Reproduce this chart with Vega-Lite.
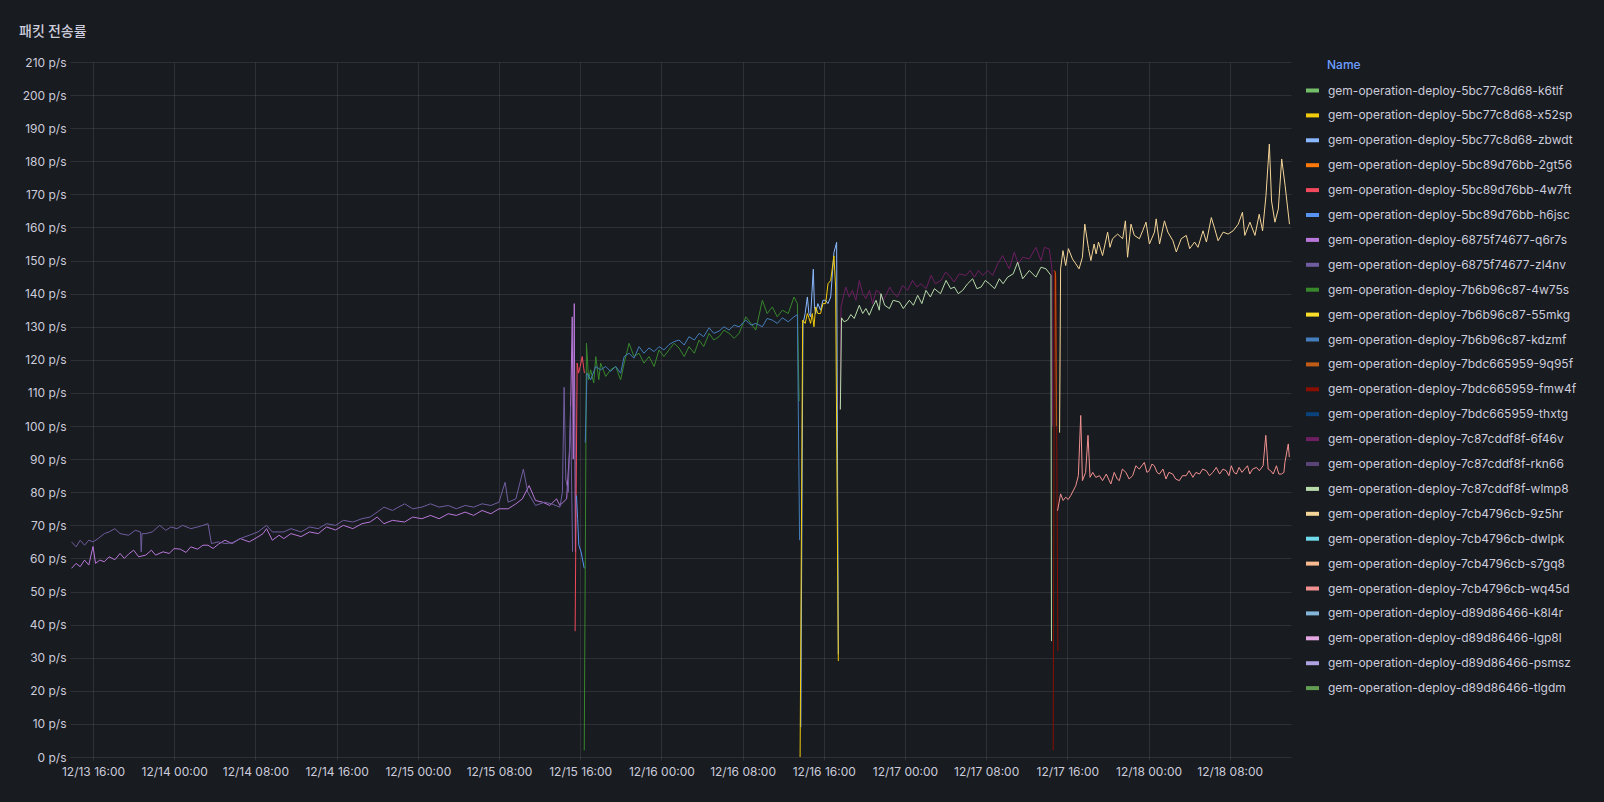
{
  "$schema": "https://vega.github.io/schema/vega-lite/v6.json",
  "autosize": "none",
  "width": 1221,
  "height": 695,
  "padding": {"left": 70, "top": 62, "right": 313, "bottom": 45},
  "background": "#181b1f",
  "title": {"text": "패킷 전송률", "anchor": "start", "frame": "group", "font": "Noto Sans CJK KR", "fontSize": 14, "fontWeight": 500, "color": "#ccccdc", "dx": -51, "offset": 10, "baseline": "middle"},
  "config": {
    "view": {"stroke": null},
    "axis": {"labelFont": "Inter", "labelFontSize": 12, "labelColor": "#ccccdc", "gridColor": "#ccccdc", "gridOpacity": 0.12, "domain": false, "tickColor": "#ccccdc", "tickOpacity": 0.12}
  },
  "data": {"values": [
{"s":"6875f74677-q6r7s","t":"2023-12-13T13:53","v":57.0},{"s":"6875f74677-q6r7s","t":"2023-12-13T14:20","v":58.5},{"s":"6875f74677-q6r7s","t":"2023-12-13T14:44","v":57.5},{"s":"6875f74677-q6r7s","t":"2023-12-13T15:10","v":59.5},{"s":"6875f74677-q6r7s","t":"2023-12-13T15:35","v":58.0},{"s":"6875f74677-q6r7s","t":"2023-12-13T16:00","v":63.6},{"s":"6875f74677-q6r7s","t":"2023-12-13T16:15","v":58.5},{"s":"6875f74677-q6r7s","t":"2023-12-13T16:40","v":59.5},{"s":"6875f74677-q6r7s","t":"2023-12-13T17:07","v":59.0},{"s":"6875f74677-q6r7s","t":"2023-12-13T17:35","v":60.5},{"s":"6875f74677-q6r7s","t":"2023-12-13T18:09","v":59.6},{"s":"6875f74677-q6r7s","t":"2023-12-13T18:40","v":61.5},{"s":"6875f74677-q6r7s","t":"2023-12-13T19:05","v":60.0},{"s":"6875f74677-q6r7s","t":"2023-12-13T19:30","v":61.3},{"s":"6875f74677-q6r7s","t":"2023-12-13T20:00","v":62.5},{"s":"6875f74677-q6r7s","t":"2023-12-13T20:30","v":60.5},{"s":"6875f74677-q6r7s","t":"2023-12-13T21:12","v":61.0},{"s":"6875f74677-q6r7s","t":"2023-12-13T21:45","v":62.5},{"s":"6875f74677-q6r7s","t":"2023-12-13T22:10","v":61.0},{"s":"6875f74677-q6r7s","t":"2023-12-13T22:54","v":62.0},{"s":"6875f74677-q6r7s","t":"2023-12-13T23:30","v":61.5},{"s":"6875f74677-q6r7s","t":"2023-12-14T00:00","v":63.0},{"s":"6875f74677-q6r7s","t":"2023-12-14T00:36","v":62.8},{"s":"6875f74677-q6r7s","t":"2023-12-14T01:10","v":61.8},{"s":"6875f74677-q6r7s","t":"2023-12-14T01:38","v":63.5},{"s":"6875f74677-q6r7s","t":"2023-12-14T02:18","v":62.8},{"s":"6875f74677-q6r7s","t":"2023-12-14T02:50","v":64.0},{"s":"6875f74677-q6r7s","t":"2023-12-14T03:20","v":64.0},{"s":"6875f74677-q6r7s","t":"2023-12-14T03:50","v":63.0},{"s":"6875f74677-q6r7s","t":"2023-12-14T04:21","v":64.3},{"s":"6875f74677-q6r7s","t":"2023-12-14T05:00","v":65.5},{"s":"6875f74677-q6r7s","t":"2023-12-14T05:42","v":64.5},{"s":"6875f74677-q6r7s","t":"2023-12-14T06:30","v":66.0},{"s":"6875f74677-q6r7s","t":"2023-12-14T07:24","v":65.0},{"s":"6875f74677-q6r7s","t":"2023-12-14T08:15","v":66.5},{"s":"6875f74677-q6r7s","t":"2023-12-14T08:45","v":67.5},{"s":"6875f74677-q6r7s","t":"2023-12-14T09:06","v":69.0},{"s":"6875f74677-q6r7s","t":"2023-12-14T09:40","v":65.5},{"s":"6875f74677-q6r7s","t":"2023-12-14T10:20","v":67.0},{"s":"6875f74677-q6r7s","t":"2023-12-14T10:48","v":66.0},{"s":"6875f74677-q6r7s","t":"2023-12-14T11:30","v":67.5},{"s":"6875f74677-q6r7s","t":"2023-12-14T12:30","v":66.6},{"s":"6875f74677-q6r7s","t":"2023-12-14T13:20","v":68.0},{"s":"6875f74677-q6r7s","t":"2023-12-14T14:12","v":67.5},{"s":"6875f74677-q6r7s","t":"2023-12-14T15:00","v":69.5},{"s":"6875f74677-q6r7s","t":"2023-12-14T15:54","v":68.6},{"s":"6875f74677-q6r7s","t":"2023-12-14T16:40","v":70.0},{"s":"6875f74677-q6r7s","t":"2023-12-14T17:36","v":69.0},{"s":"6875f74677-q6r7s","t":"2023-12-14T18:30","v":70.5},{"s":"6875f74677-q6r7s","t":"2023-12-14T19:18","v":71.0},{"s":"6875f74677-q6r7s","t":"2023-12-14T20:00","v":72.5},{"s":"6875f74677-q6r7s","t":"2023-12-14T20:40","v":70.5},{"s":"6875f74677-q6r7s","t":"2023-12-14T21:30","v":71.5},{"s":"6875f74677-q6r7s","t":"2023-12-14T22:42","v":71.0},{"s":"6875f74677-q6r7s","t":"2023-12-14T23:30","v":72.5},{"s":"6875f74677-q6r7s","t":"2023-12-15T00:24","v":72.0},{"s":"6875f74677-q6r7s","t":"2023-12-15T01:15","v":73.0},{"s":"6875f74677-q6r7s","t":"2023-12-15T02:06","v":72.0},{"s":"6875f74677-q6r7s","t":"2023-12-15T03:00","v":73.5},{"s":"6875f74677-q6r7s","t":"2023-12-15T03:48","v":73.0},{"s":"6875f74677-q6r7s","t":"2023-12-15T04:40","v":74.0},{"s":"6875f74677-q6r7s","t":"2023-12-15T05:30","v":73.0},{"s":"6875f74677-q6r7s","t":"2023-12-15T06:20","v":74.5},{"s":"6875f74677-q6r7s","t":"2023-12-15T07:12","v":73.5},{"s":"6875f74677-q6r7s","t":"2023-12-15T08:00","v":75.0},{"s":"6875f74677-q6r7s","t":"2023-12-15T08:54","v":75.0},{"s":"6875f74677-q6r7s","t":"2023-12-15T09:40","v":76.5},{"s":"6875f74677-q6r7s","t":"2023-12-15T10:18","v":78.0},{"s":"6875f74677-q6r7s","t":"2023-12-15T10:58","v":82.0},{"s":"6875f74677-q6r7s","t":"2023-12-15T11:36","v":77.5},{"s":"6875f74677-q6r7s","t":"2023-12-15T12:18","v":77.0},{"s":"6875f74677-q6r7s","t":"2023-12-15T13:00","v":76.0},{"s":"6875f74677-q6r7s","t":"2023-12-15T13:40","v":78.0},{"s":"6875f74677-q6r7s","t":"2023-12-15T14:00","v":76.0},{"s":"6875f74677-q6r7s","t":"2023-12-15T14:40","v":78.0},{"s":"6875f74677-q6r7s","t":"2023-12-15T15:00","v":95.0},{"s":"6875f74677-q6r7s","t":"2023-12-15T15:13","v":133.0},{"s":"6875f74677-q6r7s","t":"2023-12-15T15:19","v":90.0},{"s":"6875f74677-q6r7s","t":"2023-12-15T15:25","v":137.0},{"s":"6875f74677-q6r7s","t":"2023-12-15T15:32","v":62.0},
{"s":"6875f74677-zl4nv","t":"2023-12-13T13:53","v":65.0},{"s":"6875f74677-zl4nv","t":"2023-12-13T14:20","v":63.5},{"s":"6875f74677-zl4nv","t":"2023-12-13T14:44","v":65.5},{"s":"6875f74677-zl4nv","t":"2023-12-13T15:10","v":64.0},{"s":"6875f74677-zl4nv","t":"2023-12-13T15:35","v":65.5},{"s":"6875f74677-zl4nv","t":"2023-12-13T16:00","v":65.0},{"s":"6875f74677-zl4nv","t":"2023-12-13T16:30","v":66.0},{"s":"6875f74677-zl4nv","t":"2023-12-13T17:07","v":67.5},{"s":"6875f74677-zl4nv","t":"2023-12-13T17:35","v":68.0},{"s":"6875f74677-zl4nv","t":"2023-12-13T18:09","v":69.0},{"s":"6875f74677-zl4nv","t":"2023-12-13T18:40","v":67.5},{"s":"6875f74677-zl4nv","t":"2023-12-13T19:30","v":67.0},{"s":"6875f74677-zl4nv","t":"2023-12-13T20:10","v":68.5},{"s":"6875f74677-zl4nv","t":"2023-12-13T20:41","v":68.0},{"s":"6875f74677-zl4nv","t":"2023-12-13T20:45","v":62.0},{"s":"6875f74677-zl4nv","t":"2023-12-13T20:50","v":67.5},{"s":"6875f74677-zl4nv","t":"2023-12-13T21:12","v":67.5},{"s":"6875f74677-zl4nv","t":"2023-12-13T21:50","v":68.0},{"s":"6875f74677-zl4nv","t":"2023-12-13T22:34","v":70.0},{"s":"6875f74677-zl4nv","t":"2023-12-13T23:10","v":68.5},{"s":"6875f74677-zl4nv","t":"2023-12-13T23:40","v":69.5},{"s":"6875f74677-zl4nv","t":"2023-12-14T00:16","v":69.0},{"s":"6875f74677-zl4nv","t":"2023-12-14T00:50","v":70.0},{"s":"6875f74677-zl4nv","t":"2023-12-14T01:38","v":69.0},{"s":"6875f74677-zl4nv","t":"2023-12-14T02:18","v":69.5},{"s":"6875f74677-zl4nv","t":"2023-12-14T02:50","v":70.0},{"s":"6875f74677-zl4nv","t":"2023-12-14T03:20","v":70.5},{"s":"6875f74677-zl4nv","t":"2023-12-14T03:40","v":64.5},{"s":"6875f74677-zl4nv","t":"2023-12-14T04:21","v":65.0},{"s":"6875f74677-zl4nv","t":"2023-12-14T05:00","v":64.5},{"s":"6875f74677-zl4nv","t":"2023-12-14T05:42","v":64.7},{"s":"6875f74677-zl4nv","t":"2023-12-14T06:30","v":66.0},{"s":"6875f74677-zl4nv","t":"2023-12-14T07:24","v":67.0},{"s":"6875f74677-zl4nv","t":"2023-12-14T08:15","v":68.0},{"s":"6875f74677-zl4nv","t":"2023-12-14T09:06","v":70.0},{"s":"6875f74677-zl4nv","t":"2023-12-14T09:40","v":68.0},{"s":"6875f74677-zl4nv","t":"2023-12-14T10:48","v":68.0},{"s":"6875f74677-zl4nv","t":"2023-12-14T11:30","v":69.0},{"s":"6875f74677-zl4nv","t":"2023-12-14T12:30","v":68.0},{"s":"6875f74677-zl4nv","t":"2023-12-14T13:20","v":69.5},{"s":"6875f74677-zl4nv","t":"2023-12-14T14:12","v":69.0},{"s":"6875f74677-zl4nv","t":"2023-12-14T15:00","v":70.5},{"s":"6875f74677-zl4nv","t":"2023-12-14T15:54","v":70.0},{"s":"6875f74677-zl4nv","t":"2023-12-14T16:40","v":71.5},{"s":"6875f74677-zl4nv","t":"2023-12-14T17:36","v":71.0},{"s":"6875f74677-zl4nv","t":"2023-12-14T18:30","v":72.0},{"s":"6875f74677-zl4nv","t":"2023-12-14T19:18","v":72.5},{"s":"6875f74677-zl4nv","t":"2023-12-14T20:00","v":74.0},{"s":"6875f74677-zl4nv","t":"2023-12-14T20:40","v":75.5},{"s":"6875f74677-zl4nv","t":"2023-12-14T21:30","v":74.5},{"s":"6875f74677-zl4nv","t":"2023-12-14T22:42","v":76.5},{"s":"6875f74677-zl4nv","t":"2023-12-14T23:30","v":75.0},{"s":"6875f74677-zl4nv","t":"2023-12-15T00:24","v":75.5},{"s":"6875f74677-zl4nv","t":"2023-12-15T01:15","v":76.5},{"s":"6875f74677-zl4nv","t":"2023-12-15T02:06","v":75.5},{"s":"6875f74677-zl4nv","t":"2023-12-15T03:00","v":76.0},{"s":"6875f74677-zl4nv","t":"2023-12-15T03:48","v":75.0},{"s":"6875f74677-zl4nv","t":"2023-12-15T04:40","v":76.0},{"s":"6875f74677-zl4nv","t":"2023-12-15T05:30","v":75.5},{"s":"6875f74677-zl4nv","t":"2023-12-15T06:20","v":76.5},{"s":"6875f74677-zl4nv","t":"2023-12-15T07:12","v":76.0},{"s":"6875f74677-zl4nv","t":"2023-12-15T08:00","v":77.0},{"s":"6875f74677-zl4nv","t":"2023-12-15T08:36","v":83.0},{"s":"6875f74677-zl4nv","t":"2023-12-15T08:54","v":77.0},{"s":"6875f74677-zl4nv","t":"2023-12-15T09:40","v":78.0},{"s":"6875f74677-zl4nv","t":"2023-12-15T10:24","v":87.0},{"s":"6875f74677-zl4nv","t":"2023-12-15T10:50","v":80.0},{"s":"6875f74677-zl4nv","t":"2023-12-15T11:36","v":76.0},{"s":"6875f74677-zl4nv","t":"2023-12-15T12:30","v":77.0},{"s":"6875f74677-zl4nv","t":"2023-12-15T13:10","v":76.5},{"s":"6875f74677-zl4nv","t":"2023-12-15T14:00","v":75.5},{"s":"6875f74677-zl4nv","t":"2023-12-15T14:15","v":80.0},{"s":"6875f74677-zl4nv","t":"2023-12-15T14:25","v":111.7},{"s":"6875f74677-zl4nv","t":"2023-12-15T14:35","v":84.0},{"s":"6875f74677-zl4nv","t":"2023-12-15T14:50","v":80.0},{"s":"6875f74677-zl4nv","t":"2023-12-15T15:03","v":106.0},{"s":"6875f74677-zl4nv","t":"2023-12-15T15:15","v":62.0},
{"s":"5bc89d76bb-4w7ft","t":"2023-12-15T15:30","v":38},{"s":"5bc89d76bb-4w7ft","t":"2023-12-15T15:42","v":119},{"s":"5bc89d76bb-4w7ft","t":"2023-12-15T15:50","v":116},{"s":"5bc89d76bb-4w7ft","t":"2023-12-15T16:00","v":118},{"s":"5bc89d76bb-4w7ft","t":"2023-12-15T16:12","v":121},{"s":"5bc89d76bb-4w7ft","t":"2023-12-15T16:25","v":116},
{"s":"5bc89d76bb-h6jsc","t":"2023-12-15T15:38","v":79},{"s":"5bc89d76bb-h6jsc","t":"2023-12-15T15:45","v":72},{"s":"5bc89d76bb-h6jsc","t":"2023-12-15T15:52","v":64},{"s":"5bc89d76bb-h6jsc","t":"2023-12-15T16:05","v":62},{"s":"5bc89d76bb-h6jsc","t":"2023-12-15T16:24","v":57},
{"s":"7b6b96c87-4w75s","t":"2023-12-15T16:24","v":2},{"s":"7b6b96c87-4w75s","t":"2023-12-15T16:37","v":125},{"s":"7b6b96c87-4w75s","t":"2023-12-15T16:50","v":114},{"s":"7b6b96c87-4w75s","t":"2023-12-15T17:02","v":117},{"s":"7b6b96c87-4w75s","t":"2023-12-15T17:20","v":113},{"s":"7b6b96c87-4w75s","t":"2023-12-15T17:32","v":121},{"s":"7b6b96c87-4w75s","t":"2023-12-15T17:50","v":114},{"s":"7b6b96c87-4w75s","t":"2023-12-15T18:01","v":119},{"s":"7b6b96c87-4w75s","t":"2023-12-15T18:31","v":115},{"s":"7b6b96c87-4w75s","t":"2023-12-15T19:00","v":117},{"s":"7b6b96c87-4w75s","t":"2023-12-15T19:30","v":118},{"s":"7b6b96c87-4w75s","t":"2023-12-15T19:59","v":114},{"s":"7b6b96c87-4w75s","t":"2023-12-15T20:20","v":119},{"s":"7b6b96c87-4w75s","t":"2023-12-15T20:49","v":125},{"s":"7b6b96c87-4w75s","t":"2023-12-15T21:18","v":121},{"s":"7b6b96c87-4w75s","t":"2023-12-15T21:48","v":122},{"s":"7b6b96c87-4w75s","t":"2023-12-15T22:17","v":119},{"s":"7b6b96c87-4w75s","t":"2023-12-15T22:47","v":121},{"s":"7b6b96c87-4w75s","t":"2023-12-15T23:17","v":118},{"s":"7b6b96c87-4w75s","t":"2023-12-15T23:46","v":123},{"s":"7b6b96c87-4w75s","t":"2023-12-16T00:15","v":121},{"s":"7b6b96c87-4w75s","t":"2023-12-16T00:45","v":123},{"s":"7b6b96c87-4w75s","t":"2023-12-16T01:15","v":125},{"s":"7b6b96c87-4w75s","t":"2023-12-16T01:44","v":123.6},{"s":"7b6b96c87-4w75s","t":"2023-12-16T02:15","v":121},{"s":"7b6b96c87-4w75s","t":"2023-12-16T02:43","v":124},{"s":"7b6b96c87-4w75s","t":"2023-12-16T03:15","v":122},{"s":"7b6b96c87-4w75s","t":"2023-12-16T03:43","v":126},{"s":"7b6b96c87-4w75s","t":"2023-12-16T04:10","v":124},{"s":"7b6b96c87-4w75s","t":"2023-12-16T04:42","v":128},{"s":"7b6b96c87-4w75s","t":"2023-12-16T05:10","v":126},{"s":"7b6b96c87-4w75s","t":"2023-12-16T05:41","v":127},{"s":"7b6b96c87-4w75s","t":"2023-12-16T06:10","v":129},{"s":"7b6b96c87-4w75s","t":"2023-12-16T06:40","v":128},{"s":"7b6b96c87-4w75s","t":"2023-12-16T07:10","v":126.5},{"s":"7b6b96c87-4w75s","t":"2023-12-16T07:39","v":128},{"s":"7b6b96c87-4w75s","t":"2023-12-16T08:19","v":133},{"s":"7b6b96c87-4w75s","t":"2023-12-16T08:50","v":131},{"s":"7b6b96c87-4w75s","t":"2023-12-16T09:18","v":129},{"s":"7b6b96c87-4w75s","t":"2023-12-16T09:57","v":138},{"s":"7b6b96c87-4w75s","t":"2023-12-16T10:25","v":134},{"s":"7b6b96c87-4w75s","t":"2023-12-16T10:56","v":136},{"s":"7b6b96c87-4w75s","t":"2023-12-16T11:25","v":133},{"s":"7b6b96c87-4w75s","t":"2023-12-16T11:55","v":135},{"s":"7b6b96c87-4w75s","t":"2023-12-16T12:30","v":134},{"s":"7b6b96c87-4w75s","t":"2023-12-16T13:04","v":139},{"s":"7b6b96c87-4w75s","t":"2023-12-16T13:24","v":137},{"s":"7b6b96c87-4w75s","t":"2023-12-16T13:34","v":107.5},
{"s":"7b6b96c87-kdzmf","t":"2023-12-15T16:30","v":95},{"s":"7b6b96c87-kdzmf","t":"2023-12-15T16:40","v":116},{"s":"7b6b96c87-kdzmf","t":"2023-12-15T17:02","v":114},{"s":"7b6b96c87-kdzmf","t":"2023-12-15T17:32","v":118},{"s":"7b6b96c87-kdzmf","t":"2023-12-15T18:01","v":117},{"s":"7b6b96c87-kdzmf","t":"2023-12-15T18:31","v":118},{"s":"7b6b96c87-kdzmf","t":"2023-12-15T19:00","v":116.5},{"s":"7b6b96c87-kdzmf","t":"2023-12-15T19:30","v":118},{"s":"7b6b96c87-kdzmf","t":"2023-12-15T19:59","v":116},{"s":"7b6b96c87-kdzmf","t":"2023-12-15T20:20","v":121},{"s":"7b6b96c87-kdzmf","t":"2023-12-15T20:49","v":122},{"s":"7b6b96c87-kdzmf","t":"2023-12-15T21:18","v":120.5},{"s":"7b6b96c87-kdzmf","t":"2023-12-15T21:48","v":124},{"s":"7b6b96c87-kdzmf","t":"2023-12-15T22:17","v":122},{"s":"7b6b96c87-kdzmf","t":"2023-12-15T22:47","v":123.6},{"s":"7b6b96c87-kdzmf","t":"2023-12-15T23:17","v":122.5},{"s":"7b6b96c87-kdzmf","t":"2023-12-15T23:46","v":124},{"s":"7b6b96c87-kdzmf","t":"2023-12-16T00:15","v":123},{"s":"7b6b96c87-kdzmf","t":"2023-12-16T00:45","v":124.6},{"s":"7b6b96c87-kdzmf","t":"2023-12-16T01:15","v":125.5},{"s":"7b6b96c87-kdzmf","t":"2023-12-16T01:44","v":126},{"s":"7b6b96c87-kdzmf","t":"2023-12-16T02:15","v":124.5},{"s":"7b6b96c87-kdzmf","t":"2023-12-16T02:43","v":127},{"s":"7b6b96c87-kdzmf","t":"2023-12-16T03:15","v":126},{"s":"7b6b96c87-kdzmf","t":"2023-12-16T03:43","v":128},{"s":"7b6b96c87-kdzmf","t":"2023-12-16T04:10","v":127},{"s":"7b6b96c87-kdzmf","t":"2023-12-16T04:42","v":129.7},{"s":"7b6b96c87-kdzmf","t":"2023-12-16T05:10","v":128},{"s":"7b6b96c87-kdzmf","t":"2023-12-16T05:41","v":128.7},{"s":"7b6b96c87-kdzmf","t":"2023-12-16T06:10","v":130},{"s":"7b6b96c87-kdzmf","t":"2023-12-16T06:40","v":129},{"s":"7b6b96c87-kdzmf","t":"2023-12-16T07:10","v":130.5},{"s":"7b6b96c87-kdzmf","t":"2023-12-16T07:39","v":130},{"s":"7b6b96c87-kdzmf","t":"2023-12-16T08:19","v":132},{"s":"7b6b96c87-kdzmf","t":"2023-12-16T08:50","v":130.5},{"s":"7b6b96c87-kdzmf","t":"2023-12-16T09:18","v":131},{"s":"7b6b96c87-kdzmf","t":"2023-12-16T09:57","v":130},{"s":"7b6b96c87-kdzmf","t":"2023-12-16T10:25","v":132.5},{"s":"7b6b96c87-kdzmf","t":"2023-12-16T10:56","v":132},{"s":"7b6b96c87-kdzmf","t":"2023-12-16T11:25","v":131},{"s":"7b6b96c87-kdzmf","t":"2023-12-16T11:55","v":132.7},{"s":"7b6b96c87-kdzmf","t":"2023-12-16T12:30","v":131.5},{"s":"7b6b96c87-kdzmf","t":"2023-12-16T13:04","v":133},{"s":"7b6b96c87-kdzmf","t":"2023-12-16T13:24","v":133.7},{"s":"7b6b96c87-kdzmf","t":"2023-12-16T13:37","v":65.5},
{"s":"5bc77c8d68-zbwdt","t":"2023-12-16T13:44","v":9},{"s":"5bc77c8d68-zbwdt","t":"2023-12-16T13:57","v":131},{"s":"5bc77c8d68-zbwdt","t":"2023-12-16T14:10","v":134},{"s":"5bc77c8d68-zbwdt","t":"2023-12-16T14:23","v":139},{"s":"5bc77c8d68-zbwdt","t":"2023-12-16T14:32","v":134},{"s":"5bc77c8d68-zbwdt","t":"2023-12-16T14:42","v":133},{"s":"5bc77c8d68-zbwdt","t":"2023-12-16T14:58","v":147.4},{"s":"5bc77c8d68-zbwdt","t":"2023-12-16T15:05","v":136},{"s":"5bc77c8d68-zbwdt","t":"2023-12-16T15:12","v":134},{"s":"5bc77c8d68-zbwdt","t":"2023-12-16T15:25","v":137},{"s":"5bc77c8d68-zbwdt","t":"2023-12-16T15:41","v":135},{"s":"5bc77c8d68-zbwdt","t":"2023-12-16T15:55","v":138},{"s":"5bc77c8d68-zbwdt","t":"2023-12-16T16:11","v":138},{"s":"5bc77c8d68-zbwdt","t":"2023-12-16T16:25","v":137},{"s":"5bc77c8d68-zbwdt","t":"2023-12-16T16:41","v":139},{"s":"5bc77c8d68-zbwdt","t":"2023-12-16T17:00","v":152.4},{"s":"5bc77c8d68-zbwdt","t":"2023-12-16T17:16","v":155.5},{"s":"5bc77c8d68-zbwdt","t":"2023-12-16T17:26","v":31},
{"s":"5bc77c8d68-x52sp","t":"2023-12-16T13:40","v":0},{"s":"5bc77c8d68-x52sp","t":"2023-12-16T13:55","v":132},{"s":"5bc77c8d68-x52sp","t":"2023-12-16T14:10","v":131},{"s":"5bc77c8d68-x52sp","t":"2023-12-16T14:23","v":134},{"s":"5bc77c8d68-x52sp","t":"2023-12-16T14:32","v":132.7},{"s":"5bc77c8d68-x52sp","t":"2023-12-16T14:42","v":131},{"s":"5bc77c8d68-x52sp","t":"2023-12-16T14:52","v":134},{"s":"5bc77c8d68-x52sp","t":"2023-12-16T15:02","v":130},{"s":"5bc77c8d68-x52sp","t":"2023-12-16T15:12","v":136},{"s":"5bc77c8d68-x52sp","t":"2023-12-16T15:25","v":134},{"s":"5bc77c8d68-x52sp","t":"2023-12-16T15:41","v":134},{"s":"5bc77c8d68-x52sp","t":"2023-12-16T15:55","v":137},{"s":"5bc77c8d68-x52sp","t":"2023-12-16T16:11","v":137},{"s":"5bc77c8d68-x52sp","t":"2023-12-16T16:25","v":143},{"s":"5bc77c8d68-x52sp","t":"2023-12-16T16:41","v":144},{"s":"5bc77c8d68-x52sp","t":"2023-12-16T17:00","v":151.4},{"s":"5bc77c8d68-x52sp","t":"2023-12-16T17:10","v":142},{"s":"5bc77c8d68-x52sp","t":"2023-12-16T17:26","v":29},
{"s":"7c87cddf8f-6f46v","t":"2023-12-16T17:36","v":105},{"s":"7c87cddf8f-6f46v","t":"2023-12-16T17:42","v":136},{"s":"7c87cddf8f-6f46v","t":"2023-12-16T18:00","v":140},{"s":"7c87cddf8f-6f46v","t":"2023-12-16T18:10","v":142},{"s":"7c87cddf8f-6f46v","t":"2023-12-16T18:30","v":139},{"s":"7c87cddf8f-6f46v","t":"2023-12-16T18:49","v":141},{"s":"7c87cddf8f-6f46v","t":"2023-12-16T19:10","v":138},{"s":"7c87cddf8f-6f46v","t":"2023-12-16T19:30","v":144},{"s":"7c87cddf8f-6f46v","t":"2023-12-16T19:50","v":140},{"s":"7c87cddf8f-6f46v","t":"2023-12-16T20:09","v":138.5},{"s":"7c87cddf8f-6f46v","t":"2023-12-16T20:30","v":141},{"s":"7c87cddf8f-6f46v","t":"2023-12-16T20:49","v":137},{"s":"7c87cddf8f-6f46v","t":"2023-12-16T21:10","v":141},{"s":"7c87cddf8f-6f46v","t":"2023-12-16T21:28","v":140.5},{"s":"7c87cddf8f-6f46v","t":"2023-12-16T21:50","v":138},{"s":"7c87cddf8f-6f46v","t":"2023-12-16T22:08","v":139.5},{"s":"7c87cddf8f-6f46v","t":"2023-12-16T22:30","v":142},{"s":"7c87cddf8f-6f46v","t":"2023-12-16T22:47","v":140.5},{"s":"7c87cddf8f-6f46v","t":"2023-12-16T23:15","v":139},{"s":"7c87cddf8f-6f46v","t":"2023-12-16T23:46","v":142.5},{"s":"7c87cddf8f-6f46v","t":"2023-12-17T00:15","v":141},{"s":"7c87cddf8f-6f46v","t":"2023-12-17T00:45","v":144},{"s":"7c87cddf8f-6f46v","t":"2023-12-17T01:10","v":142},{"s":"7c87cddf8f-6f46v","t":"2023-12-17T01:35","v":143},{"s":"7c87cddf8f-6f46v","t":"2023-12-17T02:05","v":141.5},{"s":"7c87cddf8f-6f46v","t":"2023-12-17T02:34","v":145.5},{"s":"7c87cddf8f-6f46v","t":"2023-12-17T03:00","v":143},{"s":"7c87cddf8f-6f46v","t":"2023-12-17T03:33","v":144},{"s":"7c87cddf8f-6f46v","t":"2023-12-17T04:00","v":146.5},{"s":"7c87cddf8f-6f46v","t":"2023-12-17T04:22","v":145.5},{"s":"7c87cddf8f-6f46v","t":"2023-12-17T04:50","v":143.5},{"s":"7c87cddf8f-6f46v","t":"2023-12-17T05:21","v":146},{"s":"7c87cddf8f-6f46v","t":"2023-12-17T06:01","v":145.5},{"s":"7c87cddf8f-6f46v","t":"2023-12-17T06:25","v":147},{"s":"7c87cddf8f-6f46v","t":"2023-12-17T06:50","v":145},{"s":"7c87cddf8f-6f46v","t":"2023-12-17T07:15","v":147},{"s":"7c87cddf8f-6f46v","t":"2023-12-17T07:39","v":145.5},{"s":"7c87cddf8f-6f46v","t":"2023-12-17T08:10","v":147},{"s":"7c87cddf8f-6f46v","t":"2023-12-17T08:38","v":145.5},{"s":"7c87cddf8f-6f46v","t":"2023-12-17T09:08","v":149},{"s":"7c87cddf8f-6f46v","t":"2023-12-17T09:37","v":151.5},{"s":"7c87cddf8f-6f46v","t":"2023-12-17T10:17","v":147.5},{"s":"7c87cddf8f-6f46v","t":"2023-12-17T10:46","v":152.5},{"s":"7c87cddf8f-6f46v","t":"2023-12-17T11:10","v":149},{"s":"7c87cddf8f-6f46v","t":"2023-12-17T11:36","v":151},{"s":"7c87cddf8f-6f46v","t":"2023-12-17T12:15","v":150.5},{"s":"7c87cddf8f-6f46v","t":"2023-12-17T12:54","v":154},{"s":"7c87cddf8f-6f46v","t":"2023-12-17T13:24","v":150},{"s":"7c87cddf8f-6f46v","t":"2023-12-17T13:44","v":154},{"s":"7c87cddf8f-6f46v","t":"2023-12-17T14:13","v":153.5},{"s":"7c87cddf8f-6f46v","t":"2023-12-17T14:29","v":147.5},{"s":"7c87cddf8f-6f46v","t":"2023-12-17T14:33","v":100},
{"s":"7c87cddf8f-wlmp8","t":"2023-12-16T17:38","v":105},{"s":"7c87cddf8f-wlmp8","t":"2023-12-16T17:45","v":132.7},{"s":"7c87cddf8f-wlmp8","t":"2023-12-16T18:00","v":131.5},{"s":"7c87cddf8f-wlmp8","t":"2023-12-16T18:20","v":132},{"s":"7c87cddf8f-wlmp8","t":"2023-12-16T18:40","v":133.7},{"s":"7c87cddf8f-wlmp8","t":"2023-12-16T19:00","v":132.5},{"s":"7c87cddf8f-wlmp8","t":"2023-12-16T19:30","v":136.5},{"s":"7c87cddf8f-wlmp8","t":"2023-12-16T19:50","v":134},{"s":"7c87cddf8f-wlmp8","t":"2023-12-16T20:09","v":135.5},{"s":"7c87cddf8f-wlmp8","t":"2023-12-16T20:29","v":133.5},{"s":"7c87cddf8f-wlmp8","t":"2023-12-16T20:49","v":136},{"s":"7c87cddf8f-wlmp8","t":"2023-12-16T21:09","v":138},{"s":"7c87cddf8f-wlmp8","t":"2023-12-16T21:28","v":135},{"s":"7c87cddf8f-wlmp8","t":"2023-12-16T21:38","v":140},{"s":"7c87cddf8f-wlmp8","t":"2023-12-16T22:00","v":136.5},{"s":"7c87cddf8f-wlmp8","t":"2023-12-16T22:28","v":135.5},{"s":"7c87cddf8f-wlmp8","t":"2023-12-16T22:50","v":138},{"s":"7c87cddf8f-wlmp8","t":"2023-12-16T23:27","v":137.5},{"s":"7c87cddf8f-wlmp8","t":"2023-12-16T23:50","v":135.5},{"s":"7c87cddf8f-wlmp8","t":"2023-12-17T00:26","v":138},{"s":"7c87cddf8f-wlmp8","t":"2023-12-17T00:50","v":136.5},{"s":"7c87cddf8f-wlmp8","t":"2023-12-17T01:15","v":139.5},{"s":"7c87cddf8f-wlmp8","t":"2023-12-17T01:40","v":137},{"s":"7c87cddf8f-wlmp8","t":"2023-12-17T02:04","v":141},{"s":"7c87cddf8f-wlmp8","t":"2023-12-17T02:30","v":139},{"s":"7c87cddf8f-wlmp8","t":"2023-12-17T02:54","v":141.5},{"s":"7c87cddf8f-wlmp8","t":"2023-12-17T03:30","v":140},{"s":"7c87cddf8f-wlmp8","t":"2023-12-17T04:03","v":144},{"s":"7c87cddf8f-wlmp8","t":"2023-12-17T04:30","v":141.5},{"s":"7c87cddf8f-wlmp8","t":"2023-12-17T04:52","v":142},{"s":"7c87cddf8f-wlmp8","t":"2023-12-17T05:15","v":140},{"s":"7c87cddf8f-wlmp8","t":"2023-12-17T05:41","v":141},{"s":"7c87cddf8f-wlmp8","t":"2023-12-17T06:10","v":143},{"s":"7c87cddf8f-wlmp8","t":"2023-12-17T06:40","v":144.5},{"s":"7c87cddf8f-wlmp8","t":"2023-12-17T07:05","v":141.5},{"s":"7c87cddf8f-wlmp8","t":"2023-12-17T07:30","v":142},{"s":"7c87cddf8f-wlmp8","t":"2023-12-17T07:55","v":144},{"s":"7c87cddf8f-wlmp8","t":"2023-12-17T08:19","v":143},{"s":"7c87cddf8f-wlmp8","t":"2023-12-17T08:50","v":141.5},{"s":"7c87cddf8f-wlmp8","t":"2023-12-17T09:18","v":144.5},{"s":"7c87cddf8f-wlmp8","t":"2023-12-17T09:40","v":143},{"s":"7c87cddf8f-wlmp8","t":"2023-12-17T10:07","v":145},{"s":"7c87cddf8f-wlmp8","t":"2023-12-17T10:40","v":146},{"s":"7c87cddf8f-wlmp8","t":"2023-12-17T11:06","v":149.5},{"s":"7c87cddf8f-wlmp8","t":"2023-12-17T11:36","v":144.5},{"s":"7c87cddf8f-wlmp8","t":"2023-12-17T12:15","v":147},{"s":"7c87cddf8f-wlmp8","t":"2023-12-17T12:54","v":145},{"s":"7c87cddf8f-wlmp8","t":"2023-12-17T13:24","v":148},{"s":"7c87cddf8f-wlmp8","t":"2023-12-17T13:54","v":147.5},{"s":"7c87cddf8f-wlmp8","t":"2023-12-17T14:23","v":145.5},{"s":"7c87cddf8f-wlmp8","t":"2023-12-17T14:26","v":35},
{"s":"7bdc665959-fmw4f","t":"2023-12-17T14:36","v":2},{"s":"7bdc665959-fmw4f","t":"2023-12-17T14:44","v":147},{"s":"7bdc665959-fmw4f","t":"2023-12-17T14:52","v":145},{"s":"7bdc665959-fmw4f","t":"2023-12-17T15:04","v":32},
{"s":"7bdc665959-9q95f","t":"2023-12-17T14:42","v":147},{"s":"7bdc665959-9q95f","t":"2023-12-17T14:50","v":146.5},{"s":"7bdc665959-9q95f","t":"2023-12-17T14:55","v":100},
{"s":"7cb4796cb-9z5hr","t":"2023-12-17T15:14","v":98},{"s":"7cb4796cb-9z5hr","t":"2023-12-17T15:20","v":147.5},{"s":"7cb4796cb-9z5hr","t":"2023-12-17T15:34","v":153},{"s":"7cb4796cb-9z5hr","t":"2023-12-17T15:50","v":148.5},{"s":"7cb4796cb-9z5hr","t":"2023-12-17T16:06","v":153.6},{"s":"7cb4796cb-9z5hr","t":"2023-12-17T16:30","v":150.5},{"s":"7cb4796cb-9z5hr","t":"2023-12-17T16:50","v":149},{"s":"7cb4796cb-9z5hr","t":"2023-12-17T17:09","v":147.5},{"s":"7cb4796cb-9z5hr","t":"2023-12-17T17:29","v":151},{"s":"7cb4796cb-9z5hr","t":"2023-12-17T17:43","v":161},{"s":"7cb4796cb-9z5hr","t":"2023-12-17T18:05","v":153.6},{"s":"7cb4796cb-9z5hr","t":"2023-12-17T18:19","v":150},{"s":"7cb4796cb-9z5hr","t":"2023-12-17T18:38","v":155},{"s":"7cb4796cb-9z5hr","t":"2023-12-17T18:50","v":152},{"s":"7cb4796cb-9z5hr","t":"2023-12-17T19:04","v":155.6},{"s":"7cb4796cb-9z5hr","t":"2023-12-17T19:28","v":151.5},{"s":"7cb4796cb-9z5hr","t":"2023-12-17T19:58","v":158.6},{"s":"7cb4796cb-9z5hr","t":"2023-12-17T20:12","v":154},{"s":"7cb4796cb-9z5hr","t":"2023-12-17T20:27","v":156.6},{"s":"7cb4796cb-9z5hr","t":"2023-12-17T20:57","v":158},{"s":"7cb4796cb-9z5hr","t":"2023-12-17T21:27","v":156.6},{"s":"7cb4796cb-9z5hr","t":"2023-12-17T21:43","v":162},{"s":"7cb4796cb-9z5hr","t":"2023-12-17T21:56","v":151},{"s":"7cb4796cb-9z5hr","t":"2023-12-17T22:16","v":161},{"s":"7cb4796cb-9z5hr","t":"2023-12-17T22:36","v":157.6},{"s":"7cb4796cb-9z5hr","t":"2023-12-17T23:06","v":156.6},{"s":"7cb4796cb-9z5hr","t":"2023-12-17T23:25","v":159},{"s":"7cb4796cb-9z5hr","t":"2023-12-17T23:45","v":161.6},{"s":"7cb4796cb-9z5hr","t":"2023-12-18T00:05","v":155},{"s":"7cb4796cb-9z5hr","t":"2023-12-18T00:35","v":158.6},{"s":"7cb4796cb-9z5hr","t":"2023-12-18T00:45","v":162.6},{"s":"7cb4796cb-9z5hr","t":"2023-12-18T01:05","v":155},{"s":"7cb4796cb-9z5hr","t":"2023-12-18T01:34","v":162},{"s":"7cb4796cb-9z5hr","t":"2023-12-18T01:54","v":158.6},{"s":"7cb4796cb-9z5hr","t":"2023-12-18T02:24","v":156},{"s":"7cb4796cb-9z5hr","t":"2023-12-18T02:44","v":152.6},{"s":"7cb4796cb-9z5hr","t":"2023-12-18T03:13","v":156.6},{"s":"7cb4796cb-9z5hr","t":"2023-12-18T03:43","v":157.6},{"s":"7cb4796cb-9z5hr","t":"2023-12-18T04:03","v":153.6},{"s":"7cb4796cb-9z5hr","t":"2023-12-18T04:32","v":155.6},{"s":"7cb4796cb-9z5hr","t":"2023-12-18T04:52","v":154},{"s":"7cb4796cb-9z5hr","t":"2023-12-18T05:22","v":159},{"s":"7cb4796cb-9z5hr","t":"2023-12-18T05:42","v":155.6},{"s":"7cb4796cb-9z5hr","t":"2023-12-18T06:11","v":163},{"s":"7cb4796cb-9z5hr","t":"2023-12-18T06:31","v":159.6},{"s":"7cb4796cb-9z5hr","t":"2023-12-18T06:51","v":156},{"s":"7cb4796cb-9z5hr","t":"2023-12-18T07:21","v":158.6},{"s":"7cb4796cb-9z5hr","t":"2023-12-18T07:50","v":158},{"s":"7cb4796cb-9z5hr","t":"2023-12-18T08:20","v":159},{"s":"7cb4796cb-9z5hr","t":"2023-12-18T08:50","v":161},{"s":"7cb4796cb-9z5hr","t":"2023-12-18T09:15","v":164.6},{"s":"7cb4796cb-9z5hr","t":"2023-12-18T09:29","v":157.6},{"s":"7cb4796cb-9z5hr","t":"2023-12-18T09:59","v":161.6},{"s":"7cb4796cb-9z5hr","t":"2023-12-18T10:29","v":157.6},{"s":"7cb4796cb-9z5hr","t":"2023-12-18T10:54","v":164},{"s":"7cb4796cb-9z5hr","t":"2023-12-18T11:14","v":159},{"s":"7cb4796cb-9z5hr","t":"2023-12-18T11:34","v":169.6},{"s":"7cb4796cb-9z5hr","t":"2023-12-18T11:54","v":185.2},{"s":"7cb4796cb-9z5hr","t":"2023-12-18T12:07","v":168},{"s":"7cb4796cb-9z5hr","t":"2023-12-18T12:27","v":161.6},{"s":"7cb4796cb-9z5hr","t":"2023-12-18T12:47","v":165.6},{"s":"7cb4796cb-9z5hr","t":"2023-12-18T13:07","v":180.7},{"s":"7cb4796cb-9z5hr","t":"2023-12-18T13:27","v":172.7},{"s":"7cb4796cb-9z5hr","t":"2023-12-18T13:53","v":161},
{"s":"7cb4796cb-wq45d","t":"2023-12-17T15:02","v":74.4},{"s":"7cb4796cb-wq45d","t":"2023-12-17T15:20","v":79.5},{"s":"7cb4796cb-wq45d","t":"2023-12-17T15:35","v":77.5},{"s":"7cb4796cb-wq45d","t":"2023-12-17T15:50","v":78.5},{"s":"7cb4796cb-wq45d","t":"2023-12-17T16:05","v":77.8},{"s":"7cb4796cb-wq45d","t":"2023-12-17T16:20","v":79},{"s":"7cb4796cb-wq45d","t":"2023-12-17T16:50","v":82},{"s":"7cb4796cb-wq45d","t":"2023-12-17T17:05","v":85},{"s":"7cb4796cb-wq45d","t":"2023-12-17T17:19","v":103.2},{"s":"7cb4796cb-wq45d","t":"2023-12-17T17:29","v":83.5},{"s":"7cb4796cb-wq45d","t":"2023-12-17T17:48","v":86},{"s":"7cb4796cb-wq45d","t":"2023-12-17T18:02","v":97.2},{"s":"7cb4796cb-wq45d","t":"2023-12-17T18:14","v":84.5},{"s":"7cb4796cb-wq45d","t":"2023-12-17T18:30","v":86},{"s":"7cb4796cb-wq45d","t":"2023-12-17T18:48","v":84.5},{"s":"7cb4796cb-wq45d","t":"2023-12-17T19:10","v":85},{"s":"7cb4796cb-wq45d","t":"2023-12-17T19:28","v":83.5},{"s":"7cb4796cb-wq45d","t":"2023-12-17T19:50","v":85.5},{"s":"7cb4796cb-wq45d","t":"2023-12-17T20:17","v":82.5},{"s":"7cb4796cb-wq45d","t":"2023-12-17T20:37","v":86},{"s":"7cb4796cb-wq45d","t":"2023-12-17T20:55","v":84},{"s":"7cb4796cb-wq45d","t":"2023-12-17T21:07","v":83.5},{"s":"7cb4796cb-wq45d","t":"2023-12-17T21:25","v":87},{"s":"7cb4796cb-wq45d","t":"2023-12-17T21:46","v":86},{"s":"7cb4796cb-wq45d","t":"2023-12-17T22:05","v":84},{"s":"7cb4796cb-wq45d","t":"2023-12-17T22:26","v":85},{"s":"7cb4796cb-wq45d","t":"2023-12-17T22:45","v":88},{"s":"7cb4796cb-wq45d","t":"2023-12-17T23:05","v":87},{"s":"7cb4796cb-wq45d","t":"2023-12-17T23:35","v":89},{"s":"7cb4796cb-wq45d","t":"2023-12-17T23:50","v":86},{"s":"7cb4796cb-wq45d","t":"2023-12-18T00:04","v":86.5},{"s":"7cb4796cb-wq45d","t":"2023-12-18T00:20","v":88.5},{"s":"7cb4796cb-wq45d","t":"2023-12-18T00:34","v":88},{"s":"7cb4796cb-wq45d","t":"2023-12-18T00:50","v":86},{"s":"7cb4796cb-wq45d","t":"2023-12-18T01:04","v":85.5},{"s":"7cb4796cb-wq45d","t":"2023-12-18T01:25","v":87},{"s":"7cb4796cb-wq45d","t":"2023-12-18T01:43","v":84},{"s":"7cb4796cb-wq45d","t":"2023-12-18T02:00","v":86},{"s":"7cb4796cb-wq45d","t":"2023-12-18T02:23","v":85.5},{"s":"7cb4796cb-wq45d","t":"2023-12-18T02:40","v":84},{"s":"7cb4796cb-wq45d","t":"2023-12-18T03:02","v":83.5},{"s":"7cb4796cb-wq45d","t":"2023-12-18T03:20","v":85},{"s":"7cb4796cb-wq45d","t":"2023-12-18T03:42","v":85},{"s":"7cb4796cb-wq45d","t":"2023-12-18T04:00","v":86.5},{"s":"7cb4796cb-wq45d","t":"2023-12-18T04:22","v":84.5},{"s":"7cb4796cb-wq45d","t":"2023-12-18T04:40","v":86},{"s":"7cb4796cb-wq45d","t":"2023-12-18T05:01","v":85.5},{"s":"7cb4796cb-wq45d","t":"2023-12-18T05:20","v":87},{"s":"7cb4796cb-wq45d","t":"2023-12-18T05:41","v":86.5},{"s":"7cb4796cb-wq45d","t":"2023-12-18T06:00","v":85},{"s":"7cb4796cb-wq45d","t":"2023-12-18T06:20","v":86},{"s":"7cb4796cb-wq45d","t":"2023-12-18T06:40","v":87.5},{"s":"7cb4796cb-wq45d","t":"2023-12-18T07:00","v":85.5},{"s":"7cb4796cb-wq45d","t":"2023-12-18T07:20","v":87},{"s":"7cb4796cb-wq45d","t":"2023-12-18T07:39","v":86.5},{"s":"7cb4796cb-wq45d","t":"2023-12-18T07:55","v":85},{"s":"7cb4796cb-wq45d","t":"2023-12-18T08:09","v":88},{"s":"7cb4796cb-wq45d","t":"2023-12-18T08:25","v":86},{"s":"7cb4796cb-wq45d","t":"2023-12-18T08:39","v":85.5},{"s":"7cb4796cb-wq45d","t":"2023-12-18T08:55","v":87.5},{"s":"7cb4796cb-wq45d","t":"2023-12-18T09:12","v":86},{"s":"7cb4796cb-wq45d","t":"2023-12-18T09:28","v":87},{"s":"7cb4796cb-wq45d","t":"2023-12-18T09:45","v":88},{"s":"7cb4796cb-wq45d","t":"2023-12-18T09:58","v":85.5},{"s":"7cb4796cb-wq45d","t":"2023-12-18T10:15","v":87},{"s":"7cb4796cb-wq45d","t":"2023-12-18T10:38","v":87.5},{"s":"7cb4796cb-wq45d","t":"2023-12-18T10:55","v":86.5},{"s":"7cb4796cb-wq45d","t":"2023-12-18T11:17","v":88},{"s":"7cb4796cb-wq45d","t":"2023-12-18T11:33","v":97.2},{"s":"7cb4796cb-wq45d","t":"2023-12-18T11:47","v":87},{"s":"7cb4796cb-wq45d","t":"2023-12-18T12:02","v":86.5},{"s":"7cb4796cb-wq45d","t":"2023-12-18T12:17","v":85.5},{"s":"7cb4796cb-wq45d","t":"2023-12-18T12:36","v":88},{"s":"7cb4796cb-wq45d","t":"2023-12-18T12:50","v":85.5},{"s":"7cb4796cb-wq45d","t":"2023-12-18T13:06","v":85.5},{"s":"7cb4796cb-wq45d","t":"2023-12-18T13:20","v":86},{"s":"7cb4796cb-wq45d","t":"2023-12-18T13:26","v":89},{"s":"7cb4796cb-wq45d","t":"2023-12-18T13:46","v":94.6},{"s":"7cb4796cb-wq45d","t":"2023-12-18T13:52","v":90.6}
  ], "format": {"parse": {"t": "date"}}},
  "mark": {"type": "line", "strokeWidth": 1, "clip": true},
  "encoding": {
    "x": {"field": "t", "type": "temporal", "title": null,
      "scale": {"domain": [{"year": 2023, "month": 12, "date": 13, "hours": 13, "minutes": 44}, {"year": 2023, "month": 12, "date": 18, "hours": 14, "minutes": 2}]},
      "axis": {"format": "%m/%d %H:%M", "labelPadding": 6, "tickSize": 3,
        "values": [
          {"year": 2023, "month": 12, "date": 13, "hours": 16},
          {"year": 2023, "month": 12, "date": 14, "hours": 0},
          {"year": 2023, "month": 12, "date": 14, "hours": 8},
          {"year": 2023, "month": 12, "date": 14, "hours": 16},
          {"year": 2023, "month": 12, "date": 15, "hours": 0},
          {"year": 2023, "month": 12, "date": 15, "hours": 8},
          {"year": 2023, "month": 12, "date": 15, "hours": 16},
          {"year": 2023, "month": 12, "date": 16, "hours": 0},
          {"year": 2023, "month": 12, "date": 16, "hours": 8},
          {"year": 2023, "month": 12, "date": 16, "hours": 16},
          {"year": 2023, "month": 12, "date": 17, "hours": 0},
          {"year": 2023, "month": 12, "date": 17, "hours": 8},
          {"year": 2023, "month": 12, "date": 17, "hours": 16},
          {"year": 2023, "month": 12, "date": 18, "hours": 0},
          {"year": 2023, "month": 12, "date": 18, "hours": 8}
        ]}},
    "y": {"field": "v", "type": "quantitative", "title": null,
      "scale": {"domain": [0, 210], "nice": false},
      "axis": {"values": [0,10,20,30,40,50,60,70,80,90,100,110,120,130,140,150,160,170,180,190,200,210], "labelExpr": "datum.value + ' p/s'", "tickSize": 0, "labelPadding": 4}},
    "color": {"field": "s", "type": "nominal",
      "scale": {"domain": ["5bc77c8d68-k6tlf","5bc77c8d68-x52sp","5bc77c8d68-zbwdt","5bc89d76bb-2gt56","5bc89d76bb-4w7ft","5bc89d76bb-h6jsc","6875f74677-q6r7s","6875f74677-zl4nv","7b6b96c87-4w75s","7b6b96c87-55mkg","7b6b96c87-kdzmf","7bdc665959-9q95f","7bdc665959-fmw4f","7bdc665959-thxtg","7c87cddf8f-6f46v","7c87cddf8f-rkn66","7c87cddf8f-wlmp8","7cb4796cb-9z5hr","7cb4796cb-dwlpk","7cb4796cb-s7gq8","7cb4796cb-wq45d","d89d86466-k8l4r","d89d86466-lgp8l","d89d86466-psmsz","d89d86466-tlgdm"],
        "range": ["#73BF69","#F2CC0C","#8AB8FF","#FF780A","#F2495C","#5794F2","#B877D9","#705DA0","#37872D","#FADE2A","#447EBC","#C15C17","#890F02","#0A437C","#6D1F62","#584477","#B7DBAB","#F4D598","#70DBED","#F9BA8F","#F29191","#82B5D8","#E5A8E2","#AEA2E0","#629E51"]},
      "legend": {"orient": "none", "legendX": 1257, "legendY": -2, "title": "Name", "titleColor": "#6E9FFF", "titleFont": "Inter", "titleFontSize": 12, "titleFontWeight": 500, "titlePadding": 10, "symbolType": "stroke", "symbolStrokeWidth": 4, "symbolSize": 169, "symbolOffset": -23, "labelFont": "Inter", "labelFontSize": 12, "labelColor": "#ccccdc", "labelOffset": 7, "labelLimit": 400, "rowPadding": 7.9, "labelExpr": "'gem-operation-deploy-' + datum.label"}}
  }
}
